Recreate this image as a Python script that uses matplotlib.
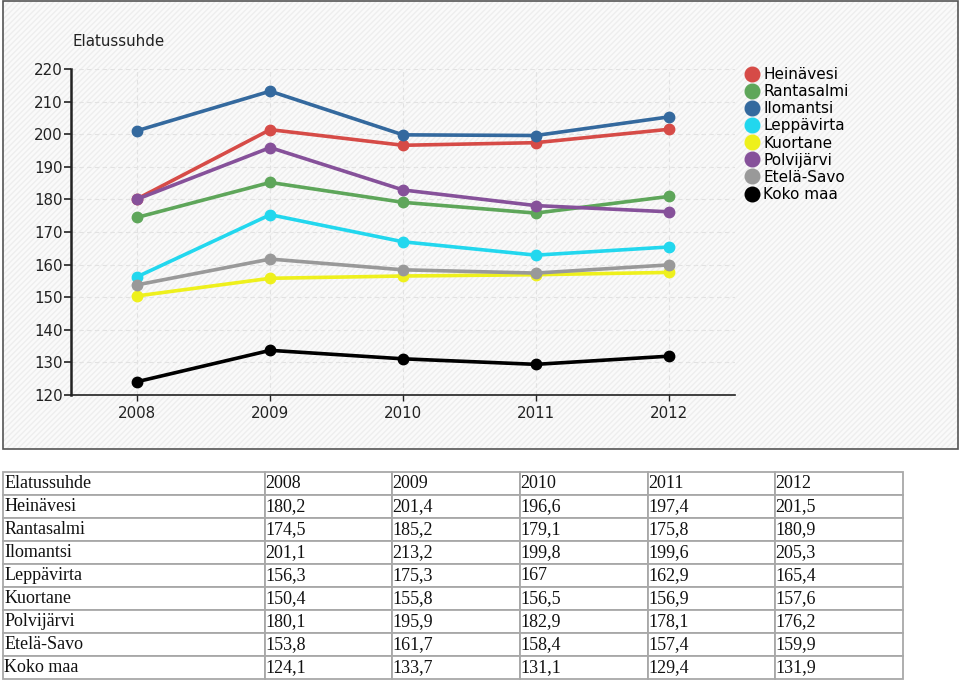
import matplotlib
matplotlib.use("Agg")
import matplotlib.pyplot as plt
from matplotlib.patches import Rectangle
from matplotlib.lines import Line2D

years = [2008, 2009, 2010, 2011, 2012]
series_names = ["Heinävesi", "Rantasalmi", "Ilomantsi", "Leppävirta",
                "Kuortane", "Polvijärvi", "Etelä-Savo", "Koko maa"]
heinavesi = [180.2, 201.4, 196.6, 197.4, 201.5]
rantasalmi = [174.5, 185.2, 179.1, 175.8, 180.9]
ilomantsi = [201.1, 213.2, 199.8, 199.6, 205.3]
leppavirta = [156.3, 175.3, 167, 162.9, 165.4]
kuortane = [150.4, 155.8, 156.5, 156.9, 157.6]
polvijarvi = [180.1, 195.9, 182.9, 178.1, 176.2]
etela_savo = [153.8, 161.7, 158.4, 157.4, 159.9]
koko_maa = [124.1, 133.7, 131.1, 129.4, 131.9]
series_values = [heinavesi, rantasalmi, ilomantsi, leppavirta,
                 kuortane, polvijarvi, etela_savo, koko_maa]
colors = ["#d64b47", "#5ea65a", "#34699e", "#22d7ee",
          "#eef01c", "#86519a", "#999999", "#000000"]
y_ticks = [120, 130, 140, 150, 160, 170, 180, 190, 200, 210, 220]
title = "Elatussuhde"

W, H = 960, 683
fig = plt.figure(figsize=(W / 100, H / 100), dpi=100)
fig.patch.set_facecolor("white")

# chart frame background
fx0, fy0, fx1, fy1 = 3, 1, 958, 449
bg = Rectangle((fx0 / W, 1 - fy1 / H), (fx1 - fx0) / W, (fy1 - fy0) / H,
               transform=fig.transFigure, facecolor="#fafafa",
               edgecolor="#eeeeee", hatch="//////", linewidth=0, zorder=-5)
fig.patches.append(bg)
border = Rectangle((fx0 / W, 1 - fy1 / H), (fx1 - fx0) / W, (fy1 - fy0) / H,
                   transform=fig.transFigure, facecolor="none",
                   edgecolor="#555555", linewidth=1.2, zorder=-4)
fig.patches.append(border)

# main plot axes
ax_l, ax_r, ax_t, ax_b = 71, 735, 69, 395
ax = fig.add_axes([ax_l / W, 1 - ax_b / H, (ax_r - ax_l) / W, (ax_b - ax_t) / H])
ax.set_facecolor("none")
for name, vals, c in zip(series_names, series_values, colors):
    ax.plot(years, vals, color=c, lw=2.6, marker="o", ms=7.5,
            solid_capstyle="round", label=name, zorder=3)
ax.set_xlim(2007.5, 2012.5)
ax.set_ylim(120, 220)
ax.set_xticks(years)
ax.set_xticklabels([str(y) for y in years])
ax.set_yticks(y_ticks)
ax.grid(True, color="#e2e2e2", linestyle=(0, (4, 3)), linewidth=0.8)
ax.set_axisbelow(True)
for s in ["top", "right"]:
    ax.spines[s].set_visible(False)
ax.spines["left"].set_linewidth(1.8)
ax.spines["left"].set_color("#222222")
ax.spines["bottom"].set_linewidth(1.2)
ax.spines["bottom"].set_color("#222222")
ax.tick_params(axis="y", direction="out", length=5, width=1.2, pad=1,
               labelsize=10.8, colors="#222222")
ax.tick_params(axis="x", direction="out", length=4, width=1.0, pad=4,
               labelsize=10.8, colors="#222222")

fig.text(72 / W, 1 - 42 / H, title, fontsize=10.8, color="#222222",
         va="center", ha="left")

handles = [Line2D([], [], color=c, marker="o", linestyle="none", ms=10.5)
           for c in colors]
fig.legend(handles, series_names, loc="upper left",
           bbox_to_anchor=(744 / W, 1 - 67 / H), frameon=False,
           fontsize=11, labelspacing=0.14, handlelength=1.0,
           handletextpad=0.25, borderaxespad=0, borderpad=0)

# data table
tx0, ty0, tx1, ty1 = 3, 472, 903, 679
tax = fig.add_axes([tx0 / W, 1 - ty1 / H, (tx1 - tx0) / W, (ty1 - ty0) / H])
tax.axis("off")


def fmt(v):
    return f"{v:g}".replace(".", ",")


cell_text = [[title] + [str(y) for y in years]]
for name, vals in zip(series_names, series_values):
    cell_text.append([name] + [fmt(v) for v in vals])
col_px = [262, 127, 128, 128, 127, 128]
tot = sum(col_px)
tbl = tax.table(cellText=cell_text, colWidths=[c / tot for c in col_px],
                cellLoc="left", bbox=[0, 0, 1, 1])
tbl.auto_set_font_size(False)
for (r, c), cell in tbl.get_celld().items():
    cell.set_edgecolor("#a8a8a8")
    cell.set_linewidth(1.3)
    cell.set_facecolor("white")
    cell.PAD = 0.004
    cell.get_text().set_fontfamily("Liberation Serif")
    cell.get_text().set_fontsize(13)
    cell.get_text().set_color("#111111")

fig.savefig("out.png", dpi=100)
